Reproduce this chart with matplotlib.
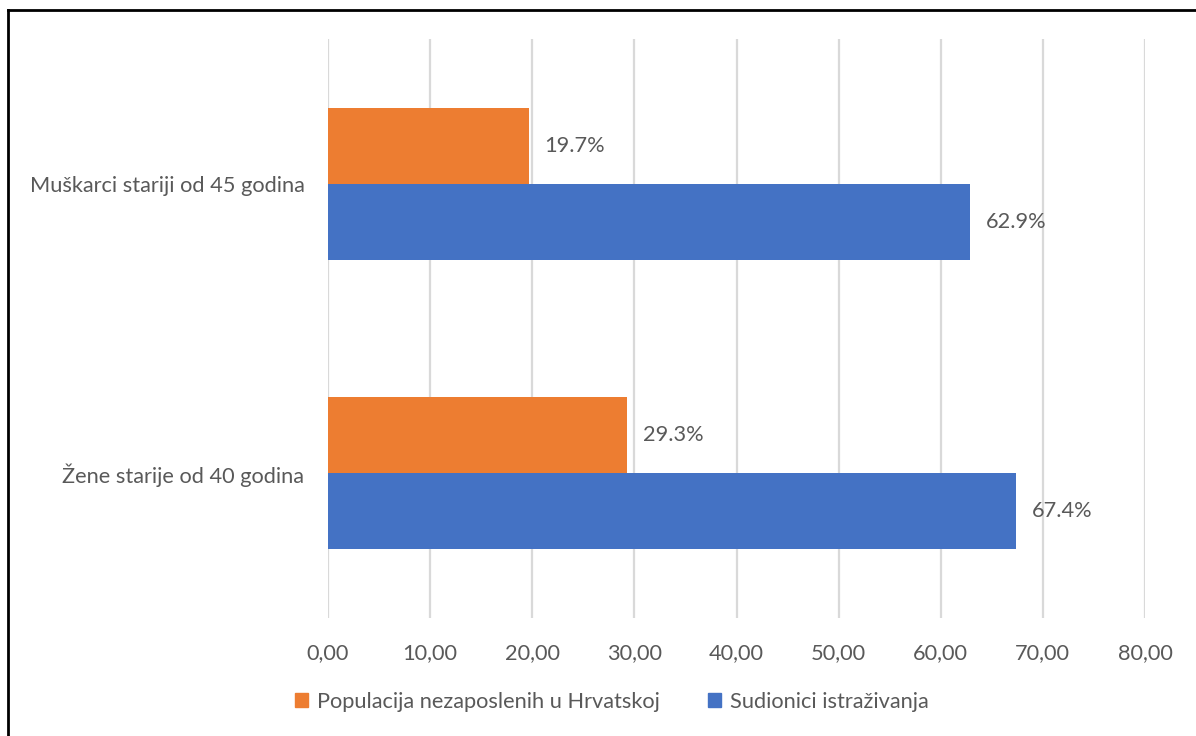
import numpy as np
import matplotlib.pyplot as plt
from matplotlib.lines import Line2D
from matplotlib.patches import Patch

# data (bottom category first)
categories = ["Žene starije od 40 godina", "Muškarci stariji od 45 godina"]
populacija = [29.3, 19.7]
sudionici = [67.4, 62.9]
xticks = [0, 10, 20, 30, 40, 50, 60, 70, 80]

plt.rcParams["font.family"] = ["Lato", "DejaVu Sans"]
txt = "#595959"
orange = "#ED7D31"
blue = "#4472C4"
fs = 15.7

fig = plt.figure(figsize=(11.96, 7.36), dpi=100)
ax = fig.add_axes([328 / 1196, 1 - 618 / 736, (1145 - 328) / 1196, (618 - 39) / 736])

y = np.arange(len(categories))
h = 0.2625
b1 = ax.barh(y + h / 2, populacija, height=h, color=orange, zorder=3,
             label="Populacija nezaposlenih u Hrvatskoj")
b2 = ax.barh(y - h / 2, sudionici, height=h, color=blue, zorder=3,
             label="Sudionici istraživanja")

for bars, vals in ((b1, populacija), (b2, sudionici)):
    for bar, v in zip(bars, vals):
        ax.annotate(f"{v:.1f}%", (v, bar.get_y() + bar.get_height() / 2),
                    xytext=(11, 0), textcoords="offset points",
                    va="center", ha="left", fontsize=fs, color=txt)

ax.set_xlim(0, 80)
ax.set_ylim(-0.5, 1.5)
ax.set_xticks(xticks)
ax.set_xticklabels([f"{t:.2f}".replace(".", ",") for t in xticks], fontsize=fs, color=txt)
ax.set_yticks(y)
ax.set_yticklabels(categories, fontsize=fs, color=txt)
ax.tick_params(axis="x", length=0, pad=18)
ax.tick_params(axis="y", length=0, pad=17)
ax.grid(axis="x", color="#D9D9D9", linewidth=1.6, zorder=0)
for s in ax.spines.values():
    s.set_visible(False)

handles = [Patch(color=orange), Patch(color=blue)]
fig.legend(handles, ["Populacija nezaposlenih u Hrvatskoj", "Sudionici istraživanja"],
           loc="center", bbox_to_anchor=(612 / 1196, 1 - 702 / 736), ncol=2,
           frameon=False, fontsize=fs, labelcolor=txt,
           handlelength=0.6, handleheight=0.6, handletextpad=0.4, columnspacing=2.2)

# outer frame (top and left edges visible)
fig.add_artist(Line2D([8 / 1196, 8 / 1196], [0, 1 - 10 / 736], transform=fig.transFigure,
                      color="black", linewidth=2))
fig.add_artist(Line2D([8 / 1196, 1], [1 - 10 / 736, 1 - 10 / 736], transform=fig.transFigure,
                      color="black", linewidth=2))

fig.savefig("out.png", dpi=100)
